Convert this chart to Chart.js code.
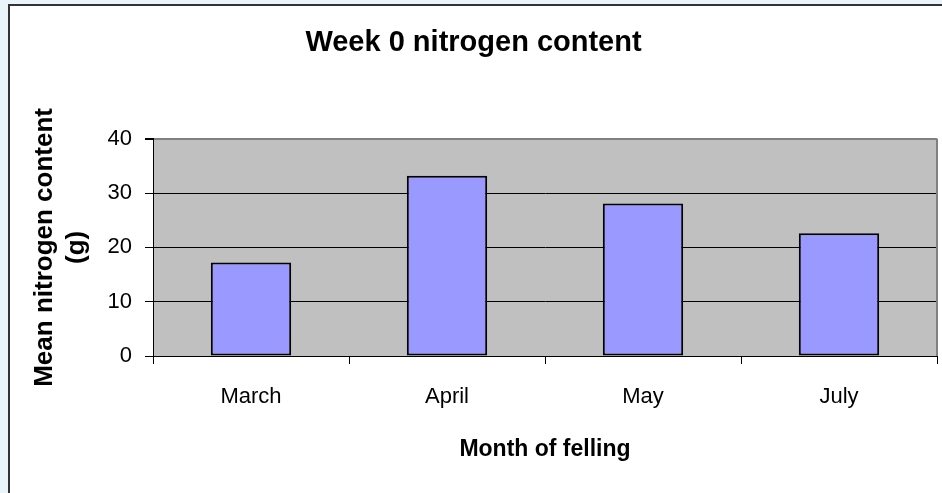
<!DOCTYPE html>
<html>
<head>
<meta charset="utf-8">
<script src="https://cdn.jsdelivr.net/npm/chart.js@4.4.1/dist/chart.umd.min.js"></script>
<style>
    html, body { margin: 0; padding: 0; }
    body { width: 942px; height: 493px; background: #e9f4fb; overflow: hidden; position: relative; }
    .frame {
        position: absolute; left: 8px; top: 4px; width: 940px; height: 495px;
        border-left: 2px solid #333; border-top: 2px solid #333; background: #fff;
    }
    canvas { display: block; }
</style>
</head>
<body>
<div class="frame"><canvas id="chart" width="932" height="487"></canvas></div>
<script>
// Week 0 nitrogen content - bar chart

const months = ['March', 'April', 'May', 'July'];
const nitrogenMeans = [17.2, 33.2, 28.1, 22.6];
const yTicks = [0, 10, 20, 30, 40];

const FONT = "'Liberation Sans', Arial, sans-serif";

// grey plot area plus the grey right-hand border like the Excel original
const plotBackground = {
    id: 'plotBackground',
    beforeDraw(chart) {
        const { ctx, chartArea: a } = chart;
        ctx.save();
        ctx.fillStyle = '#c0c0c0';
        ctx.fillRect(a.left, a.top, a.right - a.left, a.bottom - a.top);
        ctx.restore();
    },
    afterDraw(chart) {
        const { ctx, chartArea: a } = chart;
        ctx.save();
        ctx.strokeStyle = '#808080';
        ctx.lineWidth = 2;
        ctx.beginPath();
        ctx.moveTo(a.right, a.top);
        ctx.lineTo(a.right, a.bottom);
        ctx.stroke();
        ctx.restore();
    }
};

const ctx = document.getElementById('chart').getContext('2d');

new Chart(ctx, {
    type: 'bar',
    data: {
        labels: months,
        datasets: [{
            label: 'Mean nitrogen content (g)',
            data: nitrogenMeans,
            backgroundColor: '#9999ff',
            borderColor: '#000',
            borderWidth: 2,
            borderSkipped: false,
            categoryPercentage: 1,
            barPercentage: 0.41
        }]
    },
    options: {
        responsive: false,
        animation: false,
        devicePixelRatio: 1,
        layout: {
            padding: { left: 0, right: 5, top: 0, bottom: 0 }
        },
        scales: {
            x: {
                offset: true,
                grid: {
                    offset: true,
                    drawOnChartArea: false,
                    drawTicks: true,
                    tickLength: 8,
                    color: '#000'
                },
                border: { display: true, color: '#000', width: 1 },
                ticks: {
                    color: '#000',
                    padding: 20,
                    font: { family: FONT, size: 22 }
                },
                title: {
                    display: true,
                    text: 'Month of felling',
                    color: '#000',
                    padding: { top: 0, bottom: 30 },
                    font: { family: FONT, size: 23, weight: 'bold' }
                },
                afterFit(scale) { scale.height = 137; }
            },
            y: {
                min: 0,
                max: 40,
                afterBuildTicks(scale) {
                    scale.ticks = yTicks.map(v => ({ value: v }));
                },
                grid: {
                    color: c => (c.tick && c.tick.value === 40 ? '#808080' : '#000'),
                    lineWidth: c => (c.tick && c.tick.value === 40 ? 2 : 1),
                    tickColor: '#000',
                    tickLength: 8
                },
                border: { display: true, color: '#000', width: 1 },
                ticks: {
                    color: '#000',
                    padding: 13,
                    font: { family: FONT, size: 22 }
                },
                title: {
                    display: true,
                    text: ['Mean nitrogen content', '(g)'],
                    color: '#000',
                    padding: { top: 19, bottom: 0 },
                    font: { family: FONT, size: 26, weight: 'bold', lineHeight: 1.23 }
                },
                afterFit(scale) { scale.width = 143; }
            }
        },
        plugins: {
            legend: { display: false },
            tooltip: { enabled: false },
            title: {
                display: true,
                text: 'Week 0 nitrogen content',
                color: '#000',
                padding: { top: 20, bottom: 78 },
                font: { family: FONT, size: 29, weight: 'bold' }
            }
        }
    },
    plugins: [plotBackground]
});
</script>
</body>
</html>
